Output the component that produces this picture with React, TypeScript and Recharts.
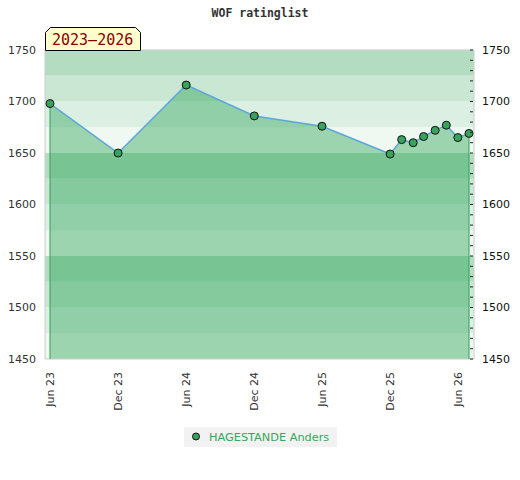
import React from "react";
import {
  ComposedChart,
  Area,
  Line,
  XAxis,
  YAxis,
  ReferenceArea,
  ReferenceLine,
} from "recharts";

const MONTHS = [
  "2023-06-01",
  "2023-12-01",
  "2024-06-01",
  "2024-12-01",
  "2025-06-01",
  "2025-12-01",
  "2026-01-01",
  "2026-02-01",
  "2026-03-01",
  "2026-04-01",
  "2026-05-01",
  "2026-06-01",
  "2026-07-01",
];
const RATINGS = [1698, 1650, 1716, 1686, 1676, 1649, 1663, 1660, 1666, 1672, 1677, 1665, 1669];

const TICK_DATES = [
  "2023-06-01",
  "2023-12-01",
  "2024-06-01",
  "2024-12-01",
  "2025-06-01",
  "2025-12-01",
  "2026-06-01",
];
const TICK_LABELS = ["Jun 23", "Dec 23", "Jun 24", "Dec 24", "Jun 25", "Dec 25", "Jun 26"];

const Y_TICKS = [1450, 1500, 1550, 1600, 1650, 1700, 1750];
const Y_MINOR = [
  1450, 1460, 1470, 1480, 1490, 1500, 1510, 1520, 1530, 1540, 1550, 1560, 1570,
  1580, 1590, 1600, 1610, 1620, 1630, 1640, 1650, 1660, 1670, 1680, 1690, 1700,
  1710, 1720, 1730, 1740, 1750,
];

// background bands, 25 points each
const BAND_FROM = [1450, 1475, 1500, 1525, 1550, 1575, 1600, 1625, 1650, 1675, 1700, 1725];
const BAND_COLORS = ["#eff8f1", "#dcefe3", "#c9e7d3", "#b3dcc1"];

const PLAYER = "HAGESTANDE Anders";
const PERIOD = "2023–2026";
const TITLE = "WOF ratinglist";

const FONT = "'DejaVu Sans', Verdana, sans-serif";
const MONO = "'DejaVu Sans Mono', monospace";
const DAY = 86400000;

const ts = (s: string) => new Date(s + "T00:00:00Z").getTime();

const data = MONTHS.map((m, i) => ({ t: ts(m), rating: RATINGS[i] }));
const xTicks = TICK_DATES.map(ts);
const tMin = data[0].t;
const tMax = data[data.length - 1].t;

const XTick = (props: any) => {
  const { x, y, payload } = props;
  const idx = xTicks.indexOf(payload.value);
  const yy = y + 13;
  return (
    <text
      x={x}
      y={yy}
      transform={`rotate(-90, ${x}, ${yy})`}
      textAnchor="end"
      dy="0.35em"
      fontSize={11}
      fontFamily={FONT}
      fill="#333"
    >
      {TICK_LABELS[idx]}
    </text>
  );
};

const RightTick = (props: any) => {
  const { x, y, payload } = props;
  const major = Y_TICKS.includes(payload.value);
  return (
    <g>
      <line x1={x - 4} x2={x - 1} y1={y} y2={y} stroke="#222" strokeWidth={1} />
      {major && (
        <text x={x + 8} y={y} dy="0.36em" fontSize={11} fontFamily={FONT} fill="#111">
          {payload.value}
        </text>
      )}
    </g>
  );
};

const Dot = (props: any) => {
  const { cx, cy } = props;
  if (cx == null || cy == null) return null;
  return <circle cx={cx} cy={cy} r={4} fill="#38a35c" stroke="#111" strokeWidth={1} />;
};

export default function App() {
  const first = data[0];
  const last = data[data.length - 1];
  return (
    <div style={{ position: "absolute", left: 0, top: 0, width: 520, height: 480, background: "#fff" }}>
      <ComposedChart
        width={520}
        height={480}
        data={data}
        margin={{ top: 50, right: 0, bottom: 0, left: 0 }}
      >
        <XAxis
          dataKey="t"
          type="number"
          scale="time"
          domain={[tMin - 13.4 * DAY, tMax + 13.4 * DAY]}
          ticks={xTicks}
          interval={0}
          height={121}
          axisLine={false}
          tickLine={false}
          tickSize={0}
          tickMargin={0}
          tick={<XTick />}
        />
        <YAxis
          yAxisId="left"
          domain={[1450, 1750]}
          ticks={Y_TICKS}
          interval={0}
          width={45}
          axisLine={false}
          tickLine={false}
          tickSize={0}
          tickMargin={9}
          tick={{ fontSize: 11, fontFamily: FONT, fill: "#333" }}
        />
        <YAxis
          yAxisId="right"
          orientation="right"
          type="number"
          domain={[1450, 1750]}
          allowDataOverflow
          ticks={Y_MINOR}
          interval={0}
          width={46}
          axisLine={false}
          tickLine={false}
          tickSize={0}
          tickMargin={0}
          tick={<RightTick />}
        />
        {BAND_FROM.map((b, i) => (
          <ReferenceArea
            key={b}
            yAxisId="left"
            y1={b}
            y2={b + 25}
            fill={BAND_COLORS[i % 4]}
            fillOpacity={1}
            stroke="none"
            zIndex={-50}
          />
        ))}
        <Area
          yAxisId="left"
          dataKey="rating"
          type="linear"
          baseValue={1450}
          fill="rgb(37,162,84)"
          fillOpacity={0.42}
          stroke="none"
          isAnimationActive={false}
        />
        <ReferenceLine
          yAxisId="left"
          segment={[
            { x: first.t, y: first.rating },
            { x: first.t, y: 1450 },
          ]}
          stroke="#2fa35a"
          strokeWidth={1}
        />
        <ReferenceLine
          yAxisId="left"
          segment={[
            { x: last.t, y: last.rating },
            { x: last.t, y: 1450 },
          ]}
          stroke="#2fa35a"
          strokeWidth={1}
        />
        <ReferenceArea
          yAxisId="left"
          y1={1450}
          y2={1750}
          fill="none"
          stroke="#cccccc"
          strokeWidth={1}
        />
        {/* invisible twin so the right axis has a series */}
        <Line
          yAxisId="right"
          dataKey="rating"
          stroke="none"
          dot={false}
          activeDot={false}
          legendType="none"
          isAnimationActive={false}
        />
        <Line
          yAxisId="left"
          dataKey="rating"
          type="linear"
          stroke="#5ea6dc"
          strokeWidth={1.5}
          dot={<Dot />}
          activeDot={false}
          isAnimationActive={false}
        />
      </ComposedChart>
      <svg
        width={520}
        height={60}
        style={{ position: "absolute", left: 0, top: 0, pointerEvents: "none" }}
      >
        <text
          x={260}
          y={17}
          textAnchor="middle"
          fontFamily={MONO}
          fontWeight="bold"
          fontSize={11.5}
          fill="#333"
        >
          {TITLE}
        </text>
        <path
          d="M45.5,50.5 L45.5,32.5 L50.5,27.5 L135.5,27.5 L140.5,32.5 L140.5,50.5 Z"
          fill="#ffffcc"
          stroke="#000"
          strokeWidth={1}
        />
        <text x={52} y={45} fontFamily={MONO} fontSize={15} fill="#8b0000">
          {PERIOD}
        </text>
      </svg>
      <div
        style={{
          position: "absolute",
          left: 184,
          top: 427,
          width: 153,
          height: 20,
          background: "#f2f2f2",
          fontFamily: FONT,
          fontSize: 11.3,
          color: "#36a65c",
          display: "flex",
          alignItems: "center",
        }}
      >
        <svg width={25} height={20}>
          <circle cx={12} cy={9.5} r={3.5} fill="#38a35c" stroke="#111" strokeWidth={1} />
        </svg>
        <span>{PLAYER}</span>
      </div>
    </div>
  );
}
